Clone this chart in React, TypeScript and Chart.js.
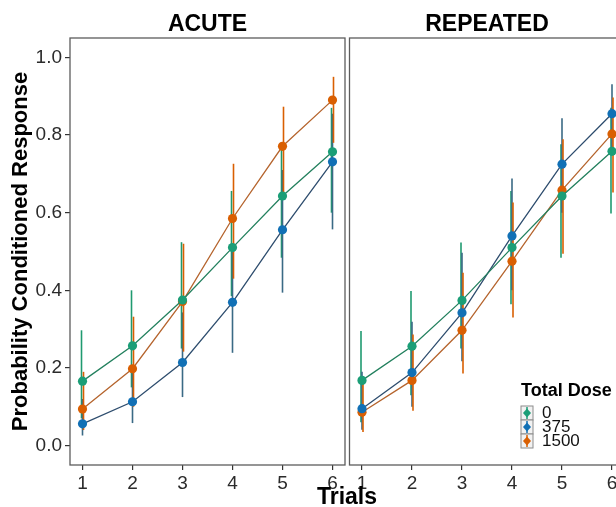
import React, { useEffect, useRef } from 'react';
import { Chart, registerables } from 'chart.js';

Chart.register(...registerables);

const FONT = '"Liberation Sans", Arial, sans-serif';

// ---------- data ----------
const trials = [1, 2, 3, 4, 5, 6];
const yTickValues = [0, 0.2, 0.4, 0.6, 0.8, 1.0];
const doseLabels = ['0', '375', '1500'];
const panelTitles = ['ACUTE', 'REPEATED'];

// ACUTE
const acute0 = [0.166, 0.257, 0.375, 0.51, 0.643, 0.757];
const acute0Lo = [0.07, 0.15, 0.25, 0.385, 0.484, 0.6];
const acute0Hi = [0.297, 0.4, 0.524, 0.656, 0.77, 0.87];
const acute375 = [0.056, 0.113, 0.214, 0.369, 0.556, 0.731];
const acute375Lo = [0.026, 0.058, 0.125, 0.239, 0.394, 0.557];
const acute375Hi = [0.12, 0.2, 0.343, 0.5, 0.71, 0.855];
const acute1500 = [0.094, 0.198, 0.371, 0.585, 0.771, 0.89];
const acute1500Lo = [0.04, 0.1, 0.242, 0.43, 0.64, 0.78];
const acute1500Hi = [0.19, 0.332, 0.52, 0.726, 0.873, 0.95];

// REPEATED
const rep0 = [0.168, 0.256, 0.374, 0.51, 0.643, 0.758];
const rep0Lo = [0.06, 0.13, 0.25, 0.364, 0.484, 0.598];
const rep0Hi = [0.295, 0.398, 0.523, 0.656, 0.776, 0.87];
const rep375 = [0.095, 0.188, 0.342, 0.54, 0.725, 0.855];
const rep375Lo = [0.041, 0.1, 0.217, 0.4, 0.6, 0.75];
const rep375Hi = [0.19, 0.319, 0.497, 0.688, 0.843, 0.931];
const rep1500 = [0.086, 0.168, 0.297, 0.475, 0.658, 0.803];
const rep1500Lo = [0.035, 0.09, 0.186, 0.33, 0.494, 0.652];
const rep1500Hi = [0.17, 0.286, 0.445, 0.626, 0.789, 0.897];

// ---------- styles ----------
const pointColors = ['#1b9e77', '#1170b5', '#d95f02'];
const lineColors = ['#23805e', '#2e4d6e', '#b5642d'];
const barColors = ['#1f9a70', '#3a6a85', '#d95f02'];
const barOffsets = [-1, 0, 1];

const panels = [
  {
    title: panelTitles[0],
    series: [
      { v: acute0, lo: acute0Lo, hi: acute0Hi },
      { v: acute375, lo: acute375Lo, hi: acute375Hi },
      { v: acute1500, lo: acute1500Lo, hi: acute1500Hi },
    ],
  },
  {
    title: panelTitles[1],
    series: [
      { v: rep0, lo: rep0Lo, hi: rep0Hi },
      { v: rep375, lo: rep375Lo, hi: rep375Hi },
      { v: rep1500, lo: rep1500Lo, hi: rep1500Hi },
    ],
  },
];

const facetPlugin = {
  id: 'facet',
  beforeDatasetsDraw(chart: any) {
    const { ctx, chartArea } = chart;
    const xs = chart.scales.x;
    const ys = chart.scales.y;
    ctx.save();
    ctx.beginPath();
    ctx.rect(chartArea.left, chartArea.top, chartArea.right - chartArea.left, chartArea.bottom - chartArea.top);
    ctx.clip();
    ctx.lineWidth = 1.6;
    chart.data.datasets.forEach((ds: any, i: number) => {
      ctx.strokeStyle = barColors[i];
      ds.errLo.forEach((lo: number, j: number) => {
        const x = xs.getPixelForValue(trials[j]) + barOffsets[i];
        ctx.beginPath();
        ctx.moveTo(x, ys.getPixelForValue(lo));
        ctx.lineTo(x, ys.getPixelForValue(ds.errHi[j]));
        ctx.stroke();
      });
    });
    ctx.restore();
  },
  afterDraw(chart: any, _args: any, opts: any) {
    const { ctx, chartArea } = chart;
    ctx.save();
    // panel border
    ctx.strokeStyle = '#5c5c5c';
    ctx.lineWidth = 1.3;
    ctx.strokeRect(chartArea.left, chartArea.top, chartArea.right - chartArea.left, chartArea.bottom - chartArea.top);
    // strip title
    ctx.fillStyle = '#000';
    ctx.font = `bold 23px ${FONT}`;
    ctx.textAlign = 'center';
    ctx.textBaseline = 'alphabetic';
    ctx.fillText(opts.title, (chartArea.left + chartArea.right) / 2, 31);
    if (opts.yTitle) {
      ctx.save();
      ctx.translate(21, (chartArea.top + chartArea.bottom) / 2);
      ctx.rotate(-Math.PI / 2);
      ctx.font = `bold 22px ${FONT}`;
      ctx.textBaseline = 'middle';
      ctx.fillText(opts.yTitle, 0, 0);
      ctx.restore();
    }
    if (opts.legend) {
      const lx = opts.legend.x;
      const ly = opts.legend.y;
      ctx.textAlign = 'left';
      ctx.font = `bold 18px ${FONT}`;
      ctx.fillText('Total Dose', lx, ly);
      const keyH = 14;
      const keyW = 12;
      const top0 = ly + 10;
      doseLabels.forEach((lab, i) => {
        const ky = top0 + i * keyH;
        ctx.fillStyle = '#f2f2f2';
        ctx.fillRect(lx, ky, keyW, keyH);
        ctx.strokeStyle = '#8c8c8c';
        ctx.lineWidth = 1;
        ctx.strokeRect(lx, ky, keyW, keyH);
        ctx.strokeStyle = pointColors[i];
        ctx.lineWidth = 1.5;
        ctx.beginPath();
        ctx.moveTo(lx + keyW / 2, ky + 1);
        ctx.lineTo(lx + keyW / 2, ky + keyH - 1);
        ctx.stroke();
        ctx.fillStyle = pointColors[i];
        ctx.beginPath();
        ctx.moveTo(lx + keyW / 2, ky + 2.5);
        ctx.lineTo(lx + keyW / 2 + 4, ky + keyH / 2);
        ctx.lineTo(lx + keyW / 2, ky + keyH - 2.5);
        ctx.lineTo(lx + keyW / 2 - 4, ky + keyH / 2);
        ctx.closePath();
        ctx.fill();
        ctx.fillStyle = '#111';
        ctx.font = `17px ${FONT}`;
        ctx.textBaseline = 'middle';
        ctx.fillText(lab, lx + 21, ky + keyH / 2 + 0.5);
        ctx.textBaseline = 'alphabetic';
      });
    }
    ctx.restore();
  },
};

function makeConfig(panelIdx: number): any {
  const p = panels[panelIdx];
  const isLeft = panelIdx === 0;
  return {
    type: 'line',
    data: {
      datasets: p.series.map((s, i) => ({
        label: doseLabels[i],
        data: trials.map((t, j) => ({ x: t, y: s.v[j] })),
        errLo: s.lo,
        errHi: s.hi,
        borderColor: lineColors[i],
        borderWidth: 1.3,
        backgroundColor: pointColors[i],
        pointBackgroundColor: pointColors[i],
        pointBorderColor: pointColors[i],
        pointBorderWidth: 0,
        pointRadius: 4.6,
        tension: 0,
        fill: false,
      })),
    },
    plugins: [facetPlugin],
    options: {
      animation: false,
      responsive: false,
      devicePixelRatio: 1,
      layout: {
        autoPadding: false,
        padding: isLeft
          ? { left: 0, right: 2, top: 38, bottom: 0 }
          : { left: 2.5, right: 2.5, top: 38, bottom: 0 },
      },
      plugins: {
        legend: { display: false },
        tooltip: { enabled: false },
        title: { display: false },
        facet: {
          title: p.title,
          yTitle: isLeft ? 'Probability Conditioned Response' : null,
          legend: isLeft ? null : { x: 174, y: 396 },
        },
      },
      scales: {
        x: {
          type: 'linear',
          min: 0.75,
          max: 6.25,
          afterBuildTicks: (scale: any) => {
            scale.ticks = trials.map((v) => ({ value: v }));
          },
          afterFit: (scale: any) => {
            scale.height = 42;
            scale.paddingLeft = 0;
            scale.paddingRight = 0;
          },
          border: { display: false },
          grid: {
            display: true,
            drawOnChartArea: false,
            drawTicks: true,
            tickLength: 5,
            color: '#333',
            lineWidth: 1.2,
          },
          ticks: {
            color: '#2b2b2b',
            font: { family: FONT, size: 19 },
            padding: 2,
            maxRotation: 0,
            callback: (v: any) => String(v),
          },
        },
        y: {
          type: 'linear',
          display: isLeft,
          min: -0.05,
          max: 1.05,
          afterBuildTicks: (scale: any) => {
            scale.ticks = yTickValues.map((v) => ({ value: v }));
          },
          afterFit: (scale: any) => {
            scale.width = isLeft ? 70 : 0;
            scale.paddingTop = 0;
            scale.paddingBottom = 0;
          },
          border: { display: false },
          grid: {
            display: true,
            drawOnChartArea: false,
            drawTicks: true,
            tickLength: 5,
            color: '#333',
            lineWidth: 1.2,
          },
          ticks: {
            color: '#2b2b2b',
            font: { family: FONT, size: 19 },
            padding: 3,
            callback: (v: any) => Number(v).toFixed(1),
          },
        },
      },
    },
  };
}

export default function App() {
  const leftRef = useRef<HTMLCanvasElement>(null);
  const rightRef = useRef<HTMLCanvasElement>(null);

  useEffect(() => {
    const c1 = new Chart(leftRef.current as HTMLCanvasElement, makeConfig(0));
    const c2 = new Chart(rightRef.current as HTMLCanvasElement, makeConfig(1));
    return () => {
      c1.destroy();
      c2.destroy();
    };
  }, []);

  return (
    <div
      style={{
        position: 'fixed',
        left: 0,
        top: 0,
        width: 616,
        height: 507,
        overflow: 'hidden',
        background: '#fff',
      }}
    >
      <canvas
        ref={leftRef}
        width={347}
        height={507}
        style={{ position: 'absolute', left: 0, top: 0, width: 347, height: 507 }}
      />
      <canvas
        ref={rightRef}
        width={280}
        height={507}
        style={{ position: 'absolute', left: 347, top: 0, width: 280, height: 507 }}
      />
      <div
        style={{
          position: 'absolute',
          left: 247,
          width: 200,
          top: 485,
          textAlign: 'center',
          font: `bold 23px ${FONT}`,
          lineHeight: '23px',
          color: '#000',
        }}
      >
        Trials
      </div>
    </div>
  );
}
